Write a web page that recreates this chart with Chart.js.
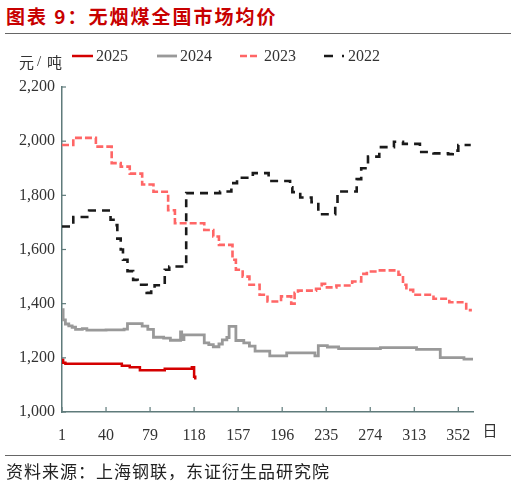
<!DOCTYPE html>
<html><head><meta charset="utf-8">
<script src="https://cdn.jsdelivr.net/npm/chart.js@4.4.0/dist/chart.umd.min.js"></script>
<style>
html,body{margin:0;padding:0;background:#fff;}
#wrap{position:relative;width:517px;height:485px;overflow:hidden;background:#fff;}
#title{position:absolute;left:6px;top:3px;font-family:"Noto Sans CJK SC";font-weight:700;font-size:19px;color:#C80000;letter-spacing:2px;white-space:nowrap;line-height:26px;}
.rule{position:absolute;left:5px;width:506px;height:0;border-top:1.5px solid #666;}
#src{position:absolute;left:6px;top:460px;font-family:"Noto Sans CJK SC";font-size:17px;color:#222;letter-spacing:1px;line-height:22px;white-space:nowrap;}
canvas{position:absolute;left:0;top:0;}
</style></head>
<body>
<div id="wrap">
  <div id="title">图表 9：无烟煤全国市场均价</div>
  <div class="rule" style="top:33px"></div>
  <canvas id="c" width="517" height="485"></canvas>
  <div class="rule" style="top:455px"></div>
  <div id="src">资料来源：上海钢联，东证衍生品研究院</div>
</div>
<script>
// ---- data (change points: day of year -> price, 元/吨) ----
const seriesLabels = ['2025', '2024', '2023', '2022'];

const days2025   = [1, 2, 4, 54, 61, 70, 92, 116, 118, 119];
const values2025 = [1193, 1182, 1178, 1171, 1165, 1154, 1160, 1165, 1130, 1120];

const days2024   = [1, 2, 4, 7, 10, 13, 19, 23, 40, 56, 59, 72, 77, 82, 91, 97, 106, 107, 109, 127, 131, 135, 140, 143, 147, 149, 155, 162, 167, 172, 185, 200, 225, 228, 236, 246, 283, 315, 336, 357, 365];
const values2024 = [1378, 1340, 1325, 1318, 1313, 1305, 1308, 1302, 1303, 1306, 1326, 1317, 1305, 1276, 1273, 1265, 1296, 1267, 1285, 1255, 1249, 1241, 1251, 1266, 1275, 1316, 1264, 1255, 1243, 1225, 1207, 1218, 1207, 1245, 1240, 1234, 1238, 1231, 1201, 1195, 1195];

const days2023   = [1, 11, 31, 45, 53, 61, 72, 82, 95, 101, 127, 135, 140, 152, 155, 161, 167, 176, 183, 195, 204, 207, 210, 226, 231, 234, 244, 258, 266, 271, 280, 299, 303, 306, 312, 330, 344, 359, 364];
const values2023 = [1986, 2012, 1980, 1919, 1906, 1880, 1840, 1813, 1745, 1697, 1672, 1648, 1617, 1562, 1525, 1500, 1470, 1433, 1408, 1427, 1400, 1440, 1448, 1455, 1473, 1460, 1467, 1482, 1510, 1519, 1523, 1507, 1470, 1451, 1433, 1418, 1405, 1376, 1376];

const days2022   = [1, 11, 25, 44, 48, 50, 53, 55, 59, 64, 68, 76, 80, 83, 92, 96, 111, 141, 151, 156, 170, 184, 203, 205, 212, 222, 228, 243, 245, 262, 266, 272, 282, 295, 303, 318, 330, 343, 347, 352, 363];
const values2022 = [1685, 1720, 1744, 1710, 1690, 1640, 1600, 1562, 1520, 1488, 1470, 1440, 1455, 1468, 1525, 1537, 1808, 1814, 1845, 1865, 1882, 1853, 1830, 1812, 1792, 1775, 1730, 1760, 1814, 1860, 1900, 1943, 1978, 1998, 1990, 1960, 1955, 1952, 1965, 1986, 1986];

const xTickLabels = [1, 40, 79, 118, 157, 196, 235, 274, 313, 352];
const yTickValues = [1000, 1200, 1400, 1600, 1800, 2000, 2200];
const xMin = 1, xMax = 365;

function pts(d, v) { return d.map((x, i) => ({x: x, y: v[i]})); }

const AXIS_COLOR = '#5f7b7b';
const TICK_FONT = {family: '"Liberation Serif", serif', size: 16};

const decoPlugin = {
  id: 'deco',
  afterDraw(chart) {
    const ctx = chart.ctx;
    const xs = chart.scales.x, ys = chart.scales.y;
    const ca = chart.chartArea;
    ctx.save();
    // inside tick marks
    ctx.strokeStyle = AXIS_COLOR;
    ctx.lineWidth = 1.2;
    ctx.setLineDash([]);
    yTickValues.forEach(v => {
      const y = ys.getPixelForValue(v);
      ctx.beginPath(); ctx.moveTo(ca.left, y); ctx.lineTo(ca.left + 4, y); ctx.stroke();
    });
    xTickLabels.forEach(v => {
      const x = xs.getPixelForValue(v);
      ctx.beginPath(); ctx.moveTo(x, ca.bottom); ctx.lineTo(x, ca.bottom - 5); ctx.stroke();
    });
    // legend
    const items = [
      {x1: 72, x2: 93, tx: 96},
      {x1: 157, x2: 177, tx: 180},
      {x1: 240, x2: 259, tx: 264},
      {x1: 324, x2: 344, tx: 348}
    ];
    const ly = 56;
    chart.data.datasets.forEach((ds, i) => {
      const it = items[i];
      ctx.strokeStyle = ds.borderColor;
      ctx.lineWidth = ds.borderWidth;
      ctx.lineCap = 'butt';
      ctx.setLineDash(ds.legendDash || ds.borderDash || []);
      ctx.beginPath(); ctx.moveTo(it.x1, ly); ctx.lineTo(it.x2, ly); ctx.stroke();
      ctx.setLineDash([]);
      ctx.fillStyle = '#333';
      ctx.font = '16px "Liberation Serif", serif';
      ctx.textBaseline = 'middle';
      ctx.textAlign = 'left';
      ctx.fillText(ds.label, it.tx, ly + 1);
    });
    // unit labels
    ctx.fillStyle = '#333';
    ctx.font = '15px "Noto Sans CJK SC"';
    ctx.textBaseline = 'middle';
    ctx.textAlign = 'left';
    ctx.fillText('元', 19, 62);
    ctx.fillText('吨', 47, 62);
    ctx.font = '15px "Liberation Serif", serif';
    ctx.fillText('/', 37, 62);
    ctx.font = '15px "Noto Sans CJK SC"';
    ctx.textAlign = 'center';
    ctx.fillText('日', 490, 430);
    ctx.restore();
  }
};

new Chart(document.getElementById('c'), {
  type: 'line',
  data: {
    datasets: [
      {label: seriesLabels[0], data: pts(days2025, values2025), borderColor: '#D40000', borderWidth: 2.5, stepped: true, pointRadius: 0, fill: false},
      {label: seriesLabels[1], data: pts(days2024, values2024), borderColor: '#999999', borderWidth: 2.8, stepped: true, pointRadius: 0, fill: false},
      {label: seriesLabels[2], data: pts(days2023, values2023), borderColor: '#FF6666', borderWidth: 2.6, borderDash: [7, 3], stepped: true, pointRadius: 0, fill: false},
      {label: seriesLabels[3], data: pts(days2022, values2022), borderColor: '#1a1a1a', borderWidth: 2.6, borderDash: [8, 6], legendDash: [9, 9, 2, 20], stepped: true, pointRadius: 0, fill: false}
    ]
  },
  options: {
    responsive: false,
    animation: false,
    layout: {padding: {top: 87, right: 44, bottom: 0, left: 0}},
    plugins: {legend: {display: false}, tooltip: {enabled: false}},
    scales: {
      x: {
        type: 'linear', min: xMin, max: xMax,
        afterBuildTicks: s => { s.ticks = xTickLabels.map(v => ({value: v})); },
        afterFit: s => { s.height = 73; },
        ticks: {font: TICK_FONT, color: '#333', padding: 14, maxRotation: 0, autoSkip: false, callback: v => String(v)},
        grid: {display: false, drawTicks: false},
        border: {display: true, color: AXIS_COLOR, width: 1.5}
      },
      y: {
        min: 1000, max: 2200,
        afterBuildTicks: s => { s.ticks = yTickValues.map(v => ({value: v})); },
        afterFit: s => { s.width = 62; },
        ticks: {font: TICK_FONT, color: '#333', padding: 7, callback: v => Number(v).toLocaleString('en-US')},
        grid: {display: false, drawTicks: false},
        border: {display: true, color: AXIS_COLOR, width: 1.5}
      }
    }
  },
  plugins: [decoPlugin]
});
</script>
</body></html>
